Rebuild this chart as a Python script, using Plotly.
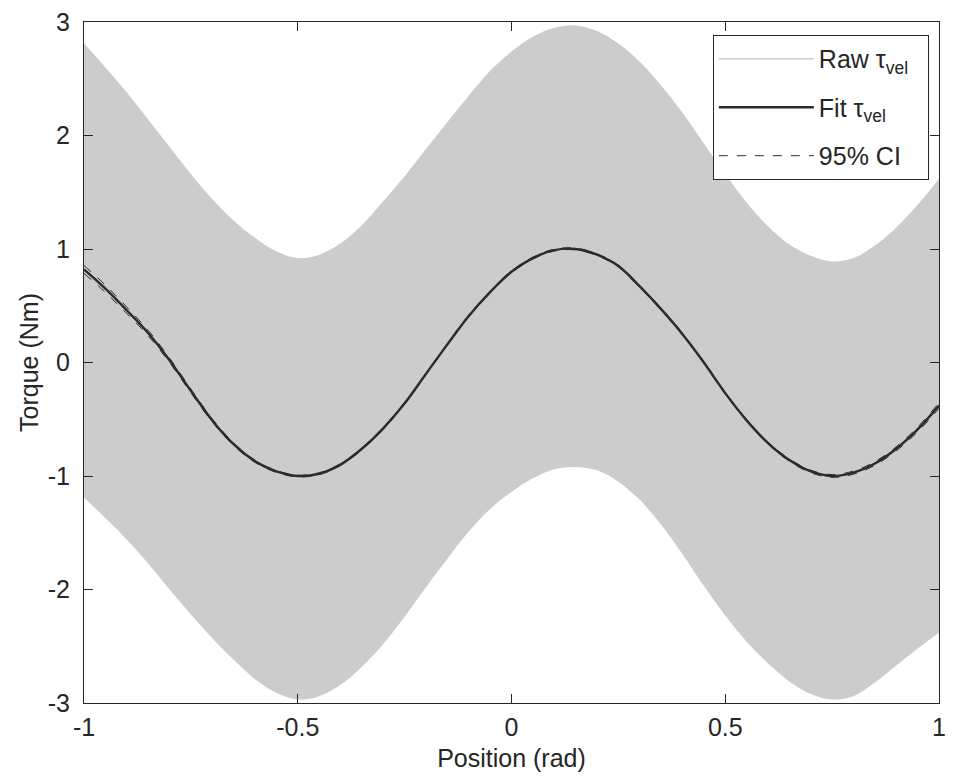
import plotly.graph_objects as go

# Sample positions (rad)
position = [-1.00, -0.95, -0.90, -0.85, -0.80, -0.75, -0.70, -0.65, -0.60, -0.55,
            -0.50, -0.45, -0.40, -0.35, -0.30, -0.25, -0.20, -0.15, -0.10, -0.05,
            0.00, 0.05, 0.10, 0.15, 0.20, 0.25, 0.30, 0.35, 0.40, 0.45,
            0.50, 0.55, 0.60, 0.65, 0.70, 0.75, 0.80, 0.85, 0.90, 0.95, 1.00]

# Raw torque envelope (upper / lower extremes of the dense raw signal), Nm
raw_upper = [2.81, 2.60, 2.38, 2.14, 1.90, 1.66, 1.44, 1.25, 1.10, 0.98,
             0.92, 0.95, 1.05, 1.21, 1.42, 1.64, 1.88, 2.12, 2.35, 2.57,
             2.74, 2.87, 2.95, 2.97, 2.92, 2.81, 2.65, 2.44, 2.20, 1.93,
             1.66, 1.41, 1.20, 1.04, 0.94, 0.89, 0.92, 1.03, 1.19, 1.39, 1.62]
raw_lower = [-1.19, -1.37, -1.56, -1.77, -2.00, -2.22, -2.43, -2.62, -2.79, -2.91,
             -2.97, -2.94, -2.84, -2.68, -2.48, -2.24, -1.98, -1.73, -1.49, -1.29,
             -1.14, -1.02, -0.94, -0.92, -0.95, -1.05, -1.21, -1.43, -1.69, -1.97,
             -2.23, -2.46, -2.65, -2.81, -2.92, -2.97, -2.94, -2.82, -2.67, -2.52, -2.38]

# Fitted torque, Nm
fit = [0.82, 0.65, 0.46, 0.26, 0.02, -0.25, -0.51, -0.72, -0.87, -0.96,
       -1.00, -0.98, -0.90, -0.76, -0.58, -0.36, -0.10, 0.16, 0.41, 0.62,
       0.80, 0.92, 0.99, 1.00, 0.95, 0.85, 0.67, 0.47, 0.25, 0.00,
       -0.27, -0.51, -0.71, -0.86, -0.96, -1.00, -0.97, -0.89, -0.76, -0.59, -0.38]

# 95% confidence half-width, Nm
ci_half = [0.035, 0.032, 0.028, 0.024, 0.020, 0.017, 0.014, 0.012, 0.010, 0.009,
           0.008, 0.008, 0.008, 0.008, 0.008, 0.008, 0.008, 0.008, 0.008, 0.008,
           0.008, 0.008, 0.008, 0.008, 0.008, 0.008, 0.008, 0.008, 0.008, 0.008,
           0.008, 0.008, 0.009, 0.010, 0.011, 0.012, 0.014, 0.016, 0.018, 0.021, 0.025]

ci_upper = [f + h for f, h in zip(fit, ci_half)]
ci_lower = [f - h for f, h in zip(fit, ci_half)]

GRAY = "#cccccc"
DARK = "#2b2b2b"
AXC = "#262626"
FONT = "Liberation Sans, Arial, sans-serif"
FS = 25

fig = go.Figure()

fig.add_trace(go.Scatter(x=position, y=raw_upper, mode="lines",
                         line=dict(color=GRAY, width=0, shape="spline"),
                         showlegend=False, hoverinfo="skip", legendgroup="raw"))
fig.add_trace(go.Scatter(x=position, y=raw_lower, mode="lines",
                         line=dict(color=GRAY, width=0, shape="spline"),
                         fill="tonexty", fillcolor=GRAY,
                         showlegend=False, hoverinfo="skip", legendgroup="raw"))
# legend entry for raw signal
fig.add_trace(go.Scatter(x=[None], y=[None], mode="lines",
                         line=dict(color=GRAY, width=1.5),
                         name="Raw τ<sub>vel</sub>\u00a0\u00a0", legendgroup="raw"))

fig.add_trace(go.Scatter(x=position, y=fit, mode="lines",
                         line=dict(color=DARK, width=2.4, shape="spline"),
                         name="Fit τ<sub>vel</sub>", legendgroup="fit"))
fig.add_trace(go.Scatter(x=position, y=ci_upper, mode="lines",
                         line=dict(color=DARK, width=1, dash="dash", shape="spline"),
                         name="95% CI", legendgroup="ci"))
fig.add_trace(go.Scatter(x=position, y=ci_lower, mode="lines",
                         line=dict(color=DARK, width=1, dash="dash", shape="spline"),
                         name="95% CI", legendgroup="ci", showlegend=False))

axis_common = dict(
    showgrid=False, zeroline=False,
    showline=True, linecolor=AXC, linewidth=1, mirror="ticks",
    ticks="inside", ticklen=9, tickcolor=AXC, tickwidth=1,
    tickfont=dict(family=FONT, size=FS, color=AXC),
)

fig.update_layout(
    width=954, height=778,
    margin=dict(l=84, r=8, t=21, b=75),
    paper_bgcolor="white", plot_bgcolor="white",
    font=dict(family=FONT, size=FS, color=AXC),
    xaxis=dict(range=[-1, 1], tickvals=[-1, -0.5, 0, 0.5, 1],
               ticktext=["-1", "-0.5", "0", "0.5", "1"],
               ticklabelstandoff=2,
               title=dict(text="Position (rad)", font=dict(family=FONT, size=FS, color=AXC), standoff=9),
               **axis_common),
    yaxis=dict(range=[-3, 3], tickvals=[-3, -2, -1, 0, 1, 2, 3],
               ticktext=["-3", "-2", "-1", "0", "1", "2", "3"],
               ticklabelstandoff=8,
               title=dict(text="Torque (Nm)", font=dict(family=FONT, size=FS, color=AXC), standoff=2),
               **axis_common),
    legend=dict(x=0.7355, y=0.981, xanchor="left", yanchor="top",
                bgcolor="white", bordercolor=AXC, borderwidth=1,
                font=dict(family=FONT, size=FS, color=AXC),
                itemwidth=95, tracegroupgap=13),
    showlegend=True,
)

fig.write_html("out.html")
